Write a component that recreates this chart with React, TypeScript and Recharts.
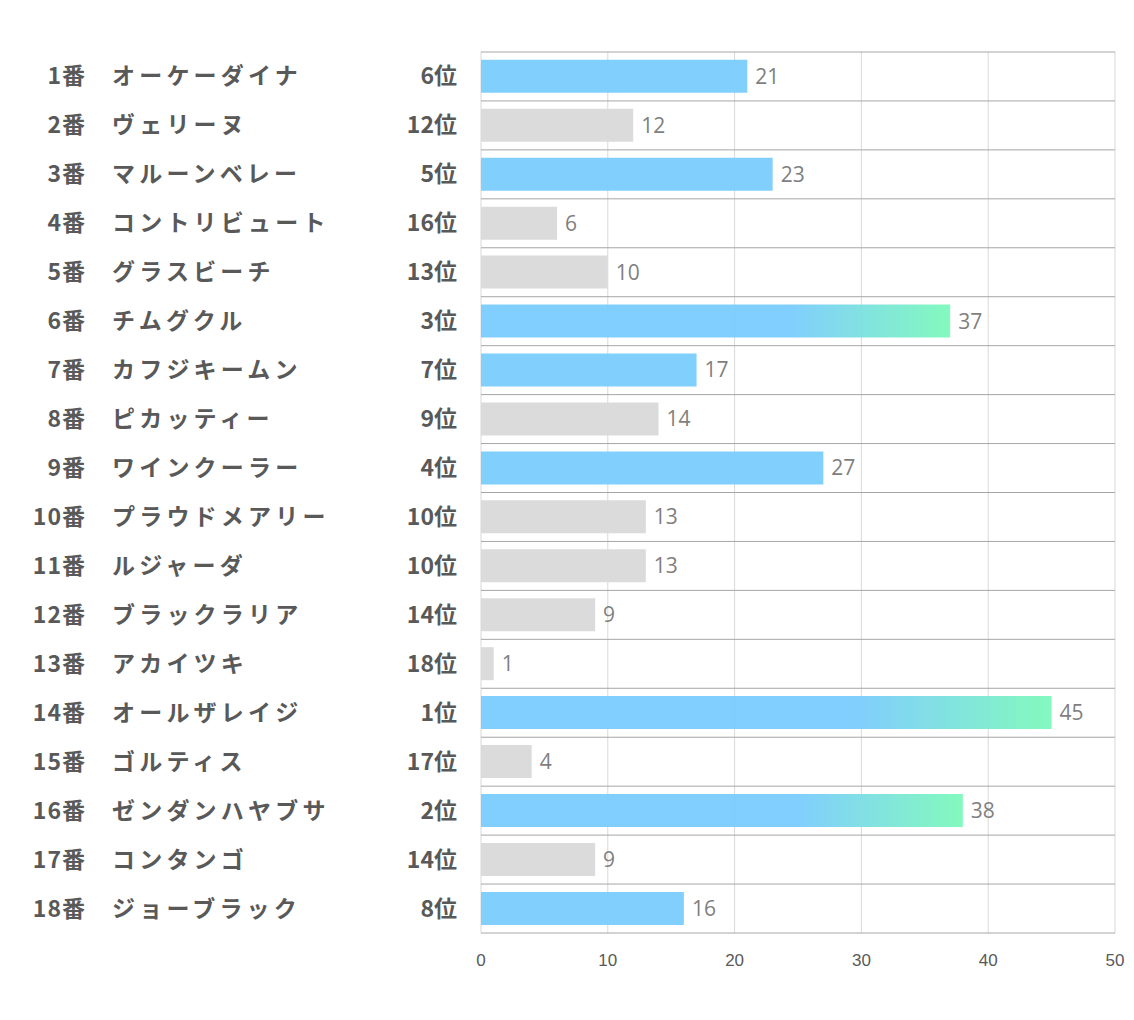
import { BarChart, Bar, XAxis, YAxis, CartesianGrid, Cell, LabelList } from "recharts";

const horseNos = [1, 2, 3, 4, 5, 6, 7, 8, 9, 10, 11, 12, 13, 14, 15, 16, 17, 18];
const horseNames = [
  "オーケーダイナ",
  "ヴェリーヌ",
  "マルーンベレー",
  "コントリビュート",
  "グラスビーチ",
  "チムグクル",
  "カフジキームン",
  "ピカッティー",
  "ワインクーラー",
  "プラウドメアリー",
  "ルジャーダ",
  "ブラックラリア",
  "アカイツキ",
  "オールザレイジ",
  "ゴルティス",
  "ゼンダンハヤブサ",
  "コンタンゴ",
  "ジョーブラック",
];
const ranks = [6, 12, 5, 16, 13, 3, 7, 9, 4, 10, 10, 14, 18, 1, 17, 2, 14, 8];
const scores = [21, 12, 23, 6, 10, 37, 17, 14, 27, 13, 13, 9, 1, 45, 4, 38, 9, 16];
const xTicks = [0, 10, 20, 30, 40, 50];

const data = horseNos.map((no, i) => ({
  key: `${no}`,
  no,
  name: horseNames[i],
  rank: ranks[i],
  score: scores[i],
}));

const JP = "'Noto Sans CJK JP', 'Noto Sans', sans-serif";
const BLUE = "#7ACCFD";
const GRAY = "#D9D9D9";

function barFill(rank: number) {
  if (rank <= 3) return "url(#topGrad)";
  if (rank <= 8) return BLUE;
  return GRAY;
}

// 馬番・馬名・順位をまとめて描く
function HorseTick(props: any) {
  const { y, payload } = props;
  const d = data[payload.index] ?? data.find((r) => r.key === payload.value);
  if (!d) return null;
  return (
    <g fontFamily={JP} fontWeight={700} fontSize={23} fill="#595959">
      <text x={86} y={y} dy={8} textAnchor="end" letterSpacing={1}>
        {`${d.no}番`}
      </text>
      <text x={112} y={y} dy={8} textAnchor="start" letterSpacing={4.2}>
        {d.name}
      </text>
      <text x={457} y={y} dy={8} textAnchor="end">
        {`${d.rank}位`}
      </text>
    </g>
  );
}

export default function App() {
  return (
    <div style={{ position: "absolute", left: 0, top: 0, background: "#fff" }}>
      <BarChart
        width={1134}
        height={1020}
        data={data}
        layout="vertical"
        margin={{ top: 52, right: 19, bottom: 0, left: 0 }}
        barCategoryGap="16%"
      >
        <defs>
          <linearGradient id="topGrad" x1="0" y1="0" x2="1" y2="0">
            <stop offset="0%" stopColor={BLUE} />
            <stop offset="66%" stopColor={BLUE} />
            <stop offset="100%" stopColor="#7CF9BA" />
          </linearGradient>
        </defs>
        <CartesianGrid horizontal={false} stroke="#D9D9D9" />
        <CartesianGrid
          vertical={false}
          stroke="#A6A6A6"
          horizontalCoordinatesGenerator={({ offset }: any) =>
            data.map((_, i) => offset.top + (i * offset.height) / data.length).concat(offset.top + offset.height)
          }
        />
        <XAxis
          type="number"
          domain={[0, 50]}
          ticks={xTicks}
          axisLine={false}
          tickLine={false}
          height={87}
          tickMargin={15}
          tick={{ fill: "#595959", fontSize: 17, fontFamily: "'Liberation Sans', sans-serif" }}
          interval={0}
        />
        <YAxis
          type="category"
          dataKey="key"
          width={481}
          axisLine={false}
          tickLine={false}
          interval={0}
          tick={<HorseTick />}
        />
        <Bar dataKey="score" isAnimationActive={false} fillOpacity={0.95}>
          {data.map((d) => (
            <Cell key={d.key} fill={barFill(d.rank)} />
          ))}
          <LabelList
            dataKey="score"
            position="right"
            offset={8}
            fill="#7F7F7F"
            fontSize={21}
            fontFamily="'Open Sans', sans-serif"
          />
        </Bar>
      </BarChart>
    </div>
  );
}
